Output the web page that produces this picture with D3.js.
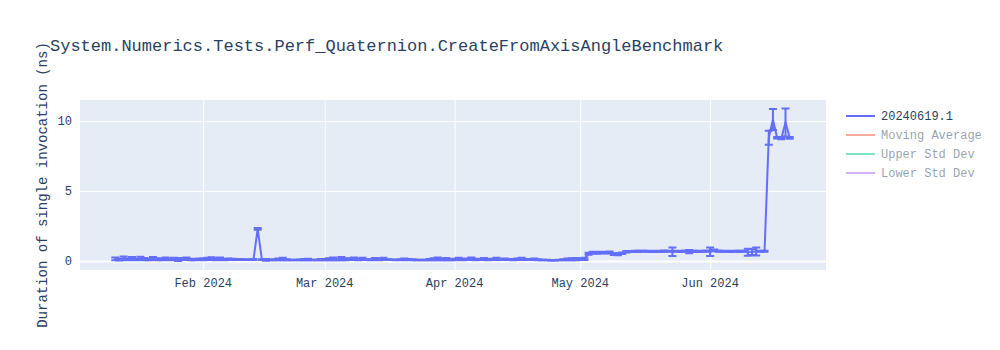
<!DOCTYPE html>
<html>
<head>
<meta charset="utf-8">
<script src="https://cdn.jsdelivr.net/npm/d3@7"></script>
<style>
  body { margin: 0; background: #fff; }
  svg { display: block; font-family: "Liberation Mono", "Courier New", monospace; }
</style>
</head>
<body>
<svg id="chart" width="1000" height="350"></svg>
<script>
// data
const chartTitle = "System.Numerics.Tests.Perf_Quaternion.CreateFromAxisAngleBenchmark";
const yTitle = "Duration of single invocation (ns)";
const legendNames = ["20240619.1", "Moving Average", "Upper Std Dev", "Lower Std Dev"];
const legendColors = ["#636efa", "#EF553B", "#00cc96", "#ab63fa"];
const yTicks = [0, 5, 10];
const xTicks = ["2024-02-01", "2024-03-01", "2024-04-01", "2024-05-01", "2024-06-01"];

const janDates = ["2024-01-11","2024-01-12","2024-01-13","2024-01-14","2024-01-15","2024-01-16","2024-01-17","2024-01-18","2024-01-19","2024-01-20","2024-01-21","2024-01-22","2024-01-23","2024-01-24","2024-01-25","2024-01-26","2024-01-27","2024-01-28","2024-01-29","2024-01-30","2024-01-31"];
const janValues = [0.15,0.1,0.2,0.12,0.18,0.11,0.19,0.14,0.1,0.18,0.13,0.11,0.17,0.1,0.15,0.11,0.14,0.17,0.11,0.1,0.13];
const janErrors = [0.1,0.06,0.12,0.07,0.1,0.06,0.11,0.08,0.05,0.1,0.07,0.06,0.09,0.05,0.08,0.1,0.06,0.09,0.05,0.04,0.06];

const febDates = ["2024-02-01","2024-02-02","2024-02-03","2024-02-04","2024-02-05","2024-02-06","2024-02-07","2024-02-08","2024-02-09","2024-02-10","2024-02-11","2024-02-12","2024-02-13","2024-02-14","2024-02-15","2024-02-16","2024-02-17","2024-02-18","2024-02-19","2024-02-20","2024-02-21","2024-02-22","2024-02-23","2024-02-24","2024-02-25","2024-02-26","2024-02-27","2024-02-28","2024-02-29"];
const febValues = [0.12,0.15,0.17,0.11,0.16,0.1,0.13,0.12,0.1,0.11,0.09,0.1,0.11,2.3,0.1,0.08,0.07,0.09,0.12,0.15,0.09,0.08,0.07,0.08,0.1,0.11,0.08,0.07,0.1];
const febErrors = [0.06,0.08,0.1,0.05,0.09,0.04,0.06,0.05,0.03,0.04,0.02,0.03,0.03,0.06,0.03,0.06,0.02,0.03,0.06,0.09,0.03,0.02,0.02,0.03,0.04,0.05,0.02,0.02,0.04];

const marDates = ["2024-03-01","2024-03-02","2024-03-03","2024-03-04","2024-03-05","2024-03-06","2024-03-07","2024-03-08","2024-03-09","2024-03-10","2024-03-11","2024-03-12","2024-03-13","2024-03-14","2024-03-15","2024-03-16","2024-03-17","2024-03-18","2024-03-19","2024-03-20","2024-03-21","2024-03-22","2024-03-23","2024-03-24","2024-03-25","2024-03-26","2024-03-27","2024-03-28","2024-03-29","2024-03-30","2024-03-31"];
const marValues = [0.1,0.13,0.16,0.1,0.17,0.12,0.14,0.16,0.1,0.15,0.1,0.09,0.14,0.1,0.15,0.1,0.09,0.08,0.1,0.12,0.11,0.09,0.08,0.07,0.08,0.1,0.13,0.16,0.1,0.14,0.09];
const marErrors = [0.05,0.07,0.1,0.05,0.11,0.07,0.06,0.09,0.04,0.08,0.03,0.03,0.07,0.04,0.08,0.03,0.02,0.02,0.03,0.06,0.04,0.03,0.02,0.02,0.02,0.04,0.07,0.1,0.04,0.08,0.03];

const aprDates = ["2024-04-01","2024-04-02","2024-04-03","2024-04-04","2024-04-05","2024-04-06","2024-04-07","2024-04-08","2024-04-09","2024-04-10","2024-04-11","2024-04-12","2024-04-13","2024-04-14","2024-04-15","2024-04-16","2024-04-17","2024-04-18","2024-04-19","2024-04-20","2024-04-21","2024-04-22","2024-04-23","2024-04-24","2024-04-25","2024-04-26","2024-04-27","2024-04-28","2024-04-29","2024-04-30"];
const aprValues = [0.11,0.15,0.1,0.13,0.16,0.11,0.1,0.14,0.09,0.12,0.15,0.1,0.13,0.11,0.09,0.13,0.15,0.11,0.1,0.13,0.09,0.08,0.07,0.06,0.06,0.07,0.09,0.12,0.13,0.14];
const aprErrors = [0.05,0.08,0.04,0.06,0.09,0.05,0.03,0.07,0.03,0.05,0.08,0.03,0.06,0.04,0.03,0.06,0.08,0.04,0.03,0.06,0.03,0.02,0.02,0.02,0.02,0.02,0.04,0.06,0.07,0.08];

const mayDates = ["2024-05-01","2024-05-02","2024-05-03","2024-05-04","2024-05-05","2024-05-06","2024-05-07","2024-05-08","2024-05-09","2024-05-10","2024-05-11","2024-05-12","2024-05-13","2024-05-14","2024-05-15","2024-05-16","2024-05-17","2024-05-18","2024-05-19","2024-05-20","2024-05-21","2024-05-22","2024-05-23","2024-05-24","2024-05-25","2024-05-26","2024-05-27","2024-05-28","2024-05-29","2024-05-30","2024-05-31"];
const mayValues = [0.13,0.15,0.52,0.6,0.58,0.61,0.59,0.62,0.5,0.48,0.56,0.66,0.68,0.7,0.69,0.71,0.7,0.68,0.7,0.69,0.71,0.7,0.66,0.7,0.69,0.71,0.67,0.69,0.7,0.69,0.71];
const mayErrors = [0.06,0.08,0.07,0.06,0.06,0.05,0.05,0.06,0.06,0.07,0.05,0.05,0.04,0.03,0.04,0.03,0.03,0.04,0.03,0.03,0.04,0.03,0.3,0.04,0.03,0.04,0.12,0.04,0.03,0.03,0.04];

const junDates = ["2024-06-01","2024-06-02","2024-06-03","2024-06-04","2024-06-05","2024-06-06","2024-06-07","2024-06-08","2024-06-09","2024-06-10","2024-06-11","2024-06-12","2024-06-13","2024-06-14","2024-06-15","2024-06-16","2024-06-17","2024-06-18","2024-06-19","2024-06-20"];
const junValues = [0.66,0.76,0.71,0.69,0.7,0.68,0.71,0.69,0.7,0.62,0.64,0.68,0.7,0.7,8.8,10.1,8.8,8.75,9.9,8.8];
const junErrors = [0.3,0.06,0.04,0.03,0.03,0.04,0.03,0.04,0.03,0.25,0.2,0.28,0.03,0.04,0.5,0.75,0.05,0.05,1.0,0.06];

const dates = [].concat(janDates, febDates, marDates, aprDates, mayDates, junDates);
const values = [].concat(janValues, febValues, marValues, aprValues, mayValues, junValues);
const errors = [].concat(janErrors, febErrors, marErrors, aprErrors, mayErrors, junErrors);

const parse = d3.timeParse("%Y-%m-%d");
const points = dates.map((d, i) => ({ date: parse(d), value: values[i], err: errors[i] }));

// layout
const margin = { left: 80, top: 100, right: 174, bottom: 80 };
const chart = d3.select("#chart");
const innerWidth = 1000 - margin.left - margin.right;
const innerHeight = 350 - margin.top - margin.bottom;

const xScale = d3.scaleTime()
      .domain([new Date(2024, 0, 2, 14), new Date(2024, 5, 28, 16)])
      .range([margin.left, margin.left + innerWidth]);

const yScale = d3.scaleLinear()
      .domain([-0.64, 11.5])
      .range([margin.top + innerHeight, margin.top]);

chart.append("rect")
      .attr("x", margin.left)
      .attr("y", margin.top)
      .attr("width", innerWidth)
      .attr("height", innerHeight)
      .attr("fill", "#e5ecf6");

// gridlines from the axes, labels placed in the root
const xAxis = d3.axisBottom(xScale)
      .tickValues(xTicks.map(parse))
      .tickFormat("")
      .tickSize(-innerHeight);

const xAxisG = chart.append("g").call(xAxis)
      .attr("transform", `translate(0,${margin.top + innerHeight})`);
xAxisG.select(".domain").remove();
xAxisG.selectAll("line").attr("stroke", "#fff").attr("stroke-width", 1);

const yAxis = d3.axisLeft(yScale)
      .tickValues(yTicks)
      .tickFormat("")
      .tickSize(-innerWidth);

const yAxisG = chart.append("g").call(yAxis)
      .attr("transform", `translate(${margin.left},0)`);
yAxisG.select(".domain").remove();
yAxisG.selectAll("line")
      .attr("stroke", "#fff")
      .attr("stroke-width", d => d === 0 ? 2 : 1);

const monthFmt = d3.timeFormat("%b %Y");
chart.selectAll("text.xtick")
      .data(xTicks.map(parse)).enter()
      .append("text")
      .attr("class", "xtick")
      .text(d => monthFmt(d))
      .attr("x", d => xScale(d))
      .attr("y", margin.top + innerHeight + 17)
      .attr("text-anchor", "middle")
      .attr("fill", "#2a3f5f")
      .attr("font-size", "12px");

chart.selectAll("text.ytick")
      .data(yTicks).enter()
      .append("text")
      .attr("class", "ytick")
      .text(d => d)
      .attr("x", margin.left - 8)
      .attr("y", d => yScale(d) + 4)
      .attr("text-anchor", "end")
      .attr("fill", "#2a3f5f")
      .attr("font-size", "12px");

// error bars
const color = legendColors[0];
const errG = chart.append("g");
points.forEach(p => {
      const x = xScale(p.date);
      const y1 = yScale(p.value - p.err);
      const y2 = yScale(p.value + p.err);
      errG.append("path")
            .attr("d", `M${x},${y1}V${y2}M${x - 4},${y2}H${x + 4}M${x - 4},${y1}H${x + 4}`)
            .attr("stroke", color)
            .attr("stroke-width", 2)
            .attr("fill", "none");
});

// main line
const line = d3.line()
      .x(d => xScale(d.date))
      .y(d => yScale(d.value));

chart.append("path")
      .datum(points)
      .attr("d", line)
      .attr("fill", "none")
      .attr("stroke", color)
      .attr("stroke-width", 2);

// title
chart.append("text")
      .text(chartTitle)
      .attr("x", 50)
      .attr("y", 51)
      .attr("fill", "#2a3f5f")
      .attr("font-size", "17px");

chart.append("text")
      .text(yTitle)
      .attr("transform", `translate(47,${margin.top + innerHeight / 2}) rotate(-90)`)
      .attr("text-anchor", "middle")
      .attr("fill", "#2a3f5f")
      .attr("font-size", "14px");

// legend
legendNames.forEach((name, i) => {
      const y = 116 + i * 19;
      const op = i === 0 ? 1 : 0.5;
      chart.append("line")
            .attr("x1", 846).attr("x2", 875)
            .attr("y1", y).attr("y2", y)
            .attr("stroke", legendColors[i])
            .attr("stroke-opacity", op)
            .attr("stroke-width", 2);
      chart.append("text")
            .text(name)
            .attr("x", 881)
            .attr("y", y + 4)
            .attr("fill", "#2a3f5f")
            .attr("fill-opacity", op)
            .attr("font-size", "12px");
});
</script>
</body>
</html>
